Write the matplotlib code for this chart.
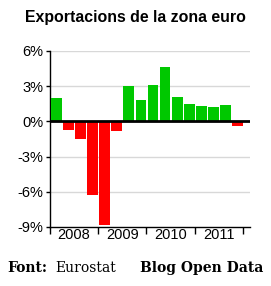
import matplotlib
matplotlib.use("Agg")
import matplotlib.pyplot as plt

# quarterly growth of euro-zone exports, 2008Q1 .. 2011Q4 (%)
years = ["2008", "2009", "2010", "2011"]
values = [2.0, -0.7, -1.5, -6.3, -8.8, -0.8,
          3.0, 1.8, 3.1, 4.6, 2.1, 1.5, 1.3, 1.2, 1.4, -0.4]
yticks = [-9, -6, -3, 0, 3, 6]

GREEN = "#00c800"
RED = "#ff0000"

fig = plt.figure(figsize=(2.71, 2.86), dpi=100)
ax = fig.add_axes([50 / 271, 59 / 286, 200 / 271, 176 / 286])

colors = [GREEN if v >= 0 else RED for v in values]
xs = [i + 0.1 for i in range(len(values))]
ax.bar(xs, values, width=0.9, align="edge", color=colors, zorder=3)

for t in yticks:
    if t in (-9, 0):
        continue
    ax.axhline(t, color="#d8d8d8", lw=1, zorder=1)
ax.axhline(0, color="black", lw=2, zorder=4)

ax.set_ylim(-9, 6)
ax.set_xlim(0, 16.6)
ax.set_yticks(yticks)
ax.set_yticklabels([f"{t}%" for t in yticks], fontsize=10.5,
                   fontfamily="Liberation Sans")
ax.tick_params(axis="y", length=3, width=1, pad=2)

n_years = len(years)
ax.set_xticks([4 * i for i in range(n_years + 1)])
ax.set_xticklabels([""] * (n_years + 1))
ax.tick_params(axis="x", which="major", length=5, width=1, direction="out")
ax.set_xticks([4 * i + 2 for i in range(n_years)], minor=True)
ax.set_xticklabels(years, minor=True, fontsize=10.5, fontfamily="Liberation Sans")
ax.tick_params(axis="x", which="minor", length=0, pad=1)

for s in ("top", "right"):
    ax.spines[s].set_visible(False)
for s in ("left", "bottom"):
    ax.spines[s].set_linewidth(1)

fig.text(0.5, 0.94, "Exportacions de la zona euro", ha="center", va="center",
         fontsize=11.4, fontweight="bold", fontfamily="Liberation Sans")
fig.text(7 / 271, 0.063, "Font:", ha="left", va="center", fontsize=10,
         fontweight="bold", fontfamily="DejaVu Serif")
fig.text(55 / 271, 0.063, "Eurostat", ha="left", va="center", fontsize=10,
         fontfamily="DejaVu Serif")
fig.text(263 / 271, 0.063, "Blog Open Data", ha="right", va="center",
         fontsize=10, fontweight="bold", fontfamily="DejaVu Serif")

fig.savefig("out.png", dpi=100)
